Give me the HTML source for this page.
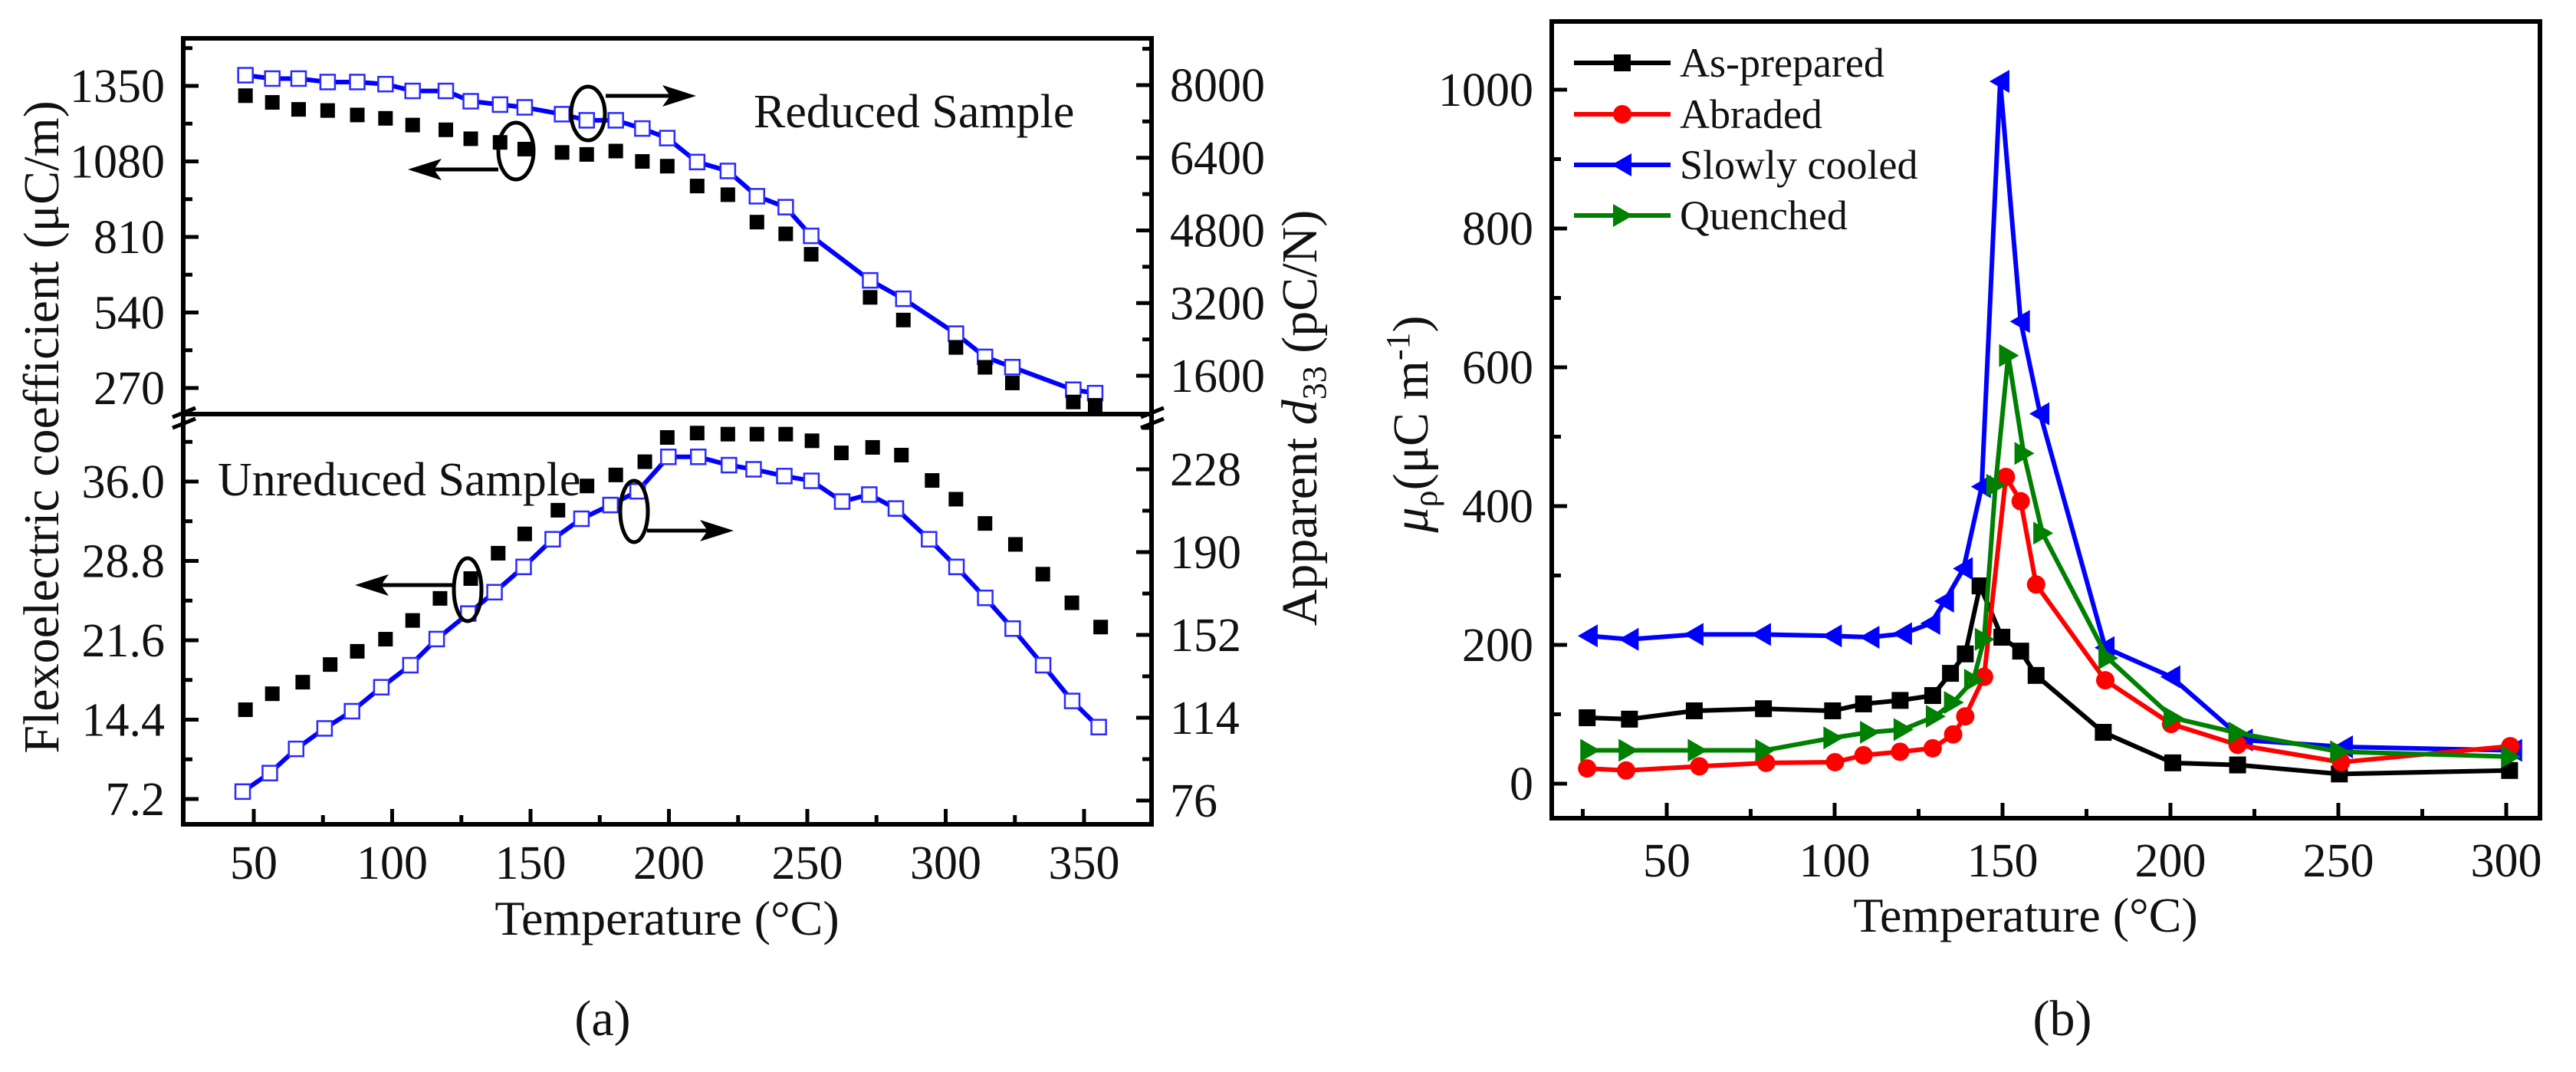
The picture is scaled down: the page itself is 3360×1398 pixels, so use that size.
<!DOCTYPE html>
<html><head><meta charset="utf-8"><style>
html,body{margin:0;padding:0;background:#fff}
svg{display:block}
text{font-family:"Liberation Serif","DejaVu Serif",serif;fill:#111}
</style></head><body>
<svg id="fig" width="3360" height="1398" viewBox="0 0 3360 1398" xmlns="http://www.w3.org/2000/svg">
<g id="pa"></g>
<g id="pb"></g>
</svg>
<script>
// ---------- Panel (a) data ----------
const aTopTemps = [47.0,56.7,66.2,76.7,87.4,97.6,107.4,119.4,128.4,139.0,147.9,161.4,170.3,180.8,190.4,199.4,210.2,221.3,231.8,242.2,251.4,272.7,284.7,303.7,314.2,324.1,346.1,354.0];
const aTopFlexo = [1315,1291,1266,1262,1246,1234,1210,1193,1161,1148,1124,1112,1105,1117,1080,1063,992,961,863,821,748,594,513,415,344,288,220,208];
const aTopD33 = [8218,8144,8144,8068,8068,8022,7872,7872,7645,7571,7510,7360,7225,7225,7044,6833,6306,6110,5553,5312,4680,3700,3295,2527,2015,1789,1292,1217];
const aBotFlexoTemps = [47.0,56.7,67.7,77.6,87.4,97.6,107.4,117.3,128.4,138.3,147.9,159.9,170.4,180.8,191.3,199.4,210.2,221.3,231.8,242.2,251.7,262.3,273.6,284.0,295.1,303.7,314.2,325.2,335.1,345.6,356.0];
const aBotFlexo = [15.3,16.75,17.8,19.4,20.6,21.7,23.4,25.4,27.2,29.5,31.25,33.4,35.6,36.6,37.8,40.0,40.4,40.3,40.3,40.3,39.7,38.6,39.1,38.4,36.1,34.4,32.2,30.3,27.6,25.0,22.8];
const aBotD33Temps = [46.0,55.8,65.3,75.6,85.5,96.1,106.6,116.1,127.5,137.0,147.5,158.0,168.4,178.9,188.7,199.8,210.6,221.7,230.6,241.7,251.5,262.6,272.4,282.0,294.0,303.9,314.3,324.2,335.2,345.7,355.3];
const aBotD33 = [80.1,88.6,99.7,109.1,117,128,138.1,150.1,161.8,171.6,183.2,195.9,205.3,211.6,217.9,233.7,233.7,229.9,228,224.9,222.7,213.2,216.4,210,195.9,183.2,169,154.9,138.1,121.7,109.7];
const aXTicks = [50,100,150,200,250,300,350];
const aTopLeftTicks = ["270","540","810","1080","1350"];
const aTopRightTicks = ["1600","3200","4800","6400","8000"];
const aBotLeftTicks = ["7.2","14.4","21.6","28.8","36.0"];
const aBotRightTicks = ["76","114","152","190","228"];
// ---------- Panel (b) data ----------
const bTempsAs = [26.3,38.9,58.2,78.8,99.4,108.6,119.5,129.2,134.5,138.9,143.3,149.8,155.4,160,180,200.7,220,250.3,301];
const bAs = [95,93,105,108,105,115,120,127,159,187,285,211,191,156,74,30,27,14,19];
const bTempsAb = [26.3,37.9,59.7,79.6,100.1,108.6,119.5,129.2,135.3,138.9,144.5,151.0,155.4,160.0,180.6,200.2,220.0,250.8,301.2];
const bAb = [22,19,25,30,31,41,46,51,71,97,154,442,407,287,149,86,56,31,54];
const bTempsSc = [26.7,38.9,58.2,78.3,99.4,110.6,120.3,128.7,132.8,138.4,143.8,149.3,155.4,161.2,180.6,200.2,221.8,251.6,302.0];
const bSc = [213,208,215,215,213,211,216,231,263,310,428,1012,666,533,196,154,63,53,48];
const bTempsQu = [27.0,38.4,59.0,79.1,99.4,110.3,120.3,129.9,135.3,141.3,144.5,147.9,151.7,156.3,161.9,181.3,200.7,220.0,250.3,301.2];
const bQu = [48,48,48,48,66,74,78,97,117,149,208,430,617,476,361,181,95,73,46,39];
const bXTicks = [50,100,150,200,250,300];
const bYTicks = [0,200,400,600,800,1000];
const bLegend = ["As-prepared","Abraded","Slowly cooled","Quenched"];

const NS = "http://www.w3.org/2000/svg";
function mk(parent, tag, attrs, txt){
  const e = document.createElementNS(NS, tag);
  for (const k in attrs) e.setAttribute(k, attrs[k]);
  if (txt !== undefined) e.textContent = txt;
  parent.appendChild(e);
  return e;
}
const pa = document.getElementById('pa');
const pb = document.getElementById('pb');

// ---- Panel a scales ----
const AL=239, AR=1502, AT=50, AB=1075, ABRK=540;
const ax = t => 331 + (t-50)*3.61;
const ayTL = v => 112 + (1350-v)/270*98.5;
const ayTR = v => 111 + (8000-v)/1600*94.75;
const ayBL = v => 1042 - (v-7.2)/7.2*103.5;
const ayBR = v => 1044 - (v-76)/38*108;

let fr = mk(pa,'path',{d:`M${AL},${AT}H${AR}V${AB}H${AL}Z M${AL},${ABRK}H${AR}`,fill:'none',stroke:'#000','stroke-width':6});


[AL,AR].forEach(x=>{
  const b = mk(pa,'path',{d:`M${x-14},${ABRK+4}L${x+16},${ABRK-8}M${x-14},${ABRK+18}L${x+16},${ABRK+6}`,stroke:'#000','stroke-width':5,fill:'none'});
  
  
});
for (let t=50;t<=375;t+=25){
  const x=ax(t); if (x>AR-4) break;
  const major = t%50===0;
  const tk = mk(pa,'line',{x1:x,x2:x,y1:AB,y2:AB-(major?20:12),stroke:'#000','stroke-width':5});
  
  
}
aXTicks.forEach(t=>{
  const l = mk(pa,'text',{x:ax(t),y:1146,'font-size':62,'text-anchor':'middle'},String(t));
  
  
});
function yTicks(g, labels, fy, minorStep, side, x, lo, hi){
  const vals = labels.map(Number);
  const step = vals[1]-vals[0];
  for (let v=vals[0]-step; v<=vals[vals.length-1]+step+1e-9; v+=minorStep){
    const y=fy(v); if (y<lo+4||y>hi-4) continue;
    const major = vals.some(m=>Math.abs(m-v)<1e-6);
    const dir = side==='left'?1:-1;
    const tk = mk(g,'line',{x1:x,x2:x+dir*(major?20:12),y1:y,y2:y,stroke:'#000','stroke-width':5});
    
    
  }
  labels.forEach(s=>{
    const y=fy(Number(s));
    const l = mk(g,'text',{x:side==='left'?x-24:x+24,y:y+21,'font-size':62,'text-anchor':side==='left'?'end':'start'},s);
    
    
  });
}
yTicks(pa,aTopLeftTicks,ayTL,135,'left',AL,AT,ABRK);
yTicks(pa,aTopRightTicks,ayTR,800,'right',AR,AT,ABRK);
yTicks(pa,aBotLeftTicks,ayBL,3.6,'left',AL,ABRK,AB);
yTicks(pa,aBotRightTicks,ayBR,19,'right',AR,ABRK,AB);

function polyline(g, xs, ys, fx, fy, color, w, name){
  const pts = xs.map((t,i)=>fx(t)+','+fy(ys[i])).join(' ');
  const p = mk(g,'polyline',{points:pts,fill:'none',stroke:color,'stroke-width':w,'stroke-linejoin':'round'});
  
  
}
function squares(g, xs, ys, fx, fy, fill, stroke, s, name){
  xs.forEach((t,i)=>{
    const r = mk(g,'rect',{x:fx(t)-s/2,y:fy(ys[i])-s/2,width:s,height:s,fill:fill,stroke:stroke,'stroke-width':stroke==='none'?0:2.5});
    
    
  });
}
polyline(pa,aTopTemps,aTopD33,ax,ayTR,'#0000ff',6,'reduced-d33-line');
squares(pa,aTopTemps,aTopD33,ax,ayTR,'#fff','#2a2aff',19,'reduced-d33-point');
squares(pa,aTopTemps,aTopFlexo,ax,ayTL,'#000','none',19,'reduced-flexo-point');
polyline(pa,aBotD33Temps,aBotD33,ax,ayBR,'#0000ff',6,'unreduced-d33-line');
squares(pa,aBotD33Temps,aBotD33,ax,ayBR,'#fff','#2a2aff',19,'unreduced-d33-point');
squares(pa,aBotFlexoTemps,aBotFlexo,ax,ayBL,'#000','none',19,'unreduced-flexo-point');

function arrow(g,x1,x2,y,name){
  const d = x2>x1?1:-1;
  const l = mk(g,'line',{x1:x1,x2:x2-d*30,y1:y,y2:y,stroke:'#000','stroke-width':5});
  
  
  const h = mk(g,'path',{d:`M${x2},${y}L${x2-d*44},${y-14}L${x2-d*34},${y}L${x2-d*44},${y+14}Z`,fill:'#000'});
  
  
}
function ell(g,cx,cy,rx,ry,name){
  const e = mk(g,'ellipse',{cx:cx,cy:cy,rx:rx,ry:ry,fill:'none',stroke:'#000','stroke-width':5});
  
  
}
ell(pa,767,148,22,35,'d33-axis-circle-top');
arrow(pa,790,908,125,'right-axis-arrow-top');
ell(pa,673,197,23,37,'flexo-axis-circle-top');
arrow(pa,650,532,221,'left-axis-arrow-top');
ell(pa,610,769,18,41,'flexo-axis-circle-bottom');
arrow(pa,591,463,763,'left-axis-arrow-bottom');
ell(pa,827,667,18,40,'d33-axis-circle-bottom');
arrow(pa,844,957,692,'right-axis-arrow-bottom');

let t;
t = mk(pa,'text',{x:983,y:166,'font-size':62},'Reduced Sample');


t = mk(pa,'text',{x:284,y:646,'font-size':62},'Unreduced Sample');


t = mk(pa,'text',{x:870,y:1219,'font-size':64,'text-anchor':'middle'},'Temperature (°C)');


t = mk(pa,'text',{x:0,y:0,'font-size':66,'text-anchor':'middle',transform:'translate(76,557) rotate(-90)'},'Flexoelectric coefficient (μC/m)');


t = mk(pa,'text',{x:0,y:0,'font-size':66,'text-anchor':'middle',transform:'translate(1717,545) rotate(-90)'});


mk(t,'tspan',{},'Apparent ');
mk(t,'tspan',{'font-style':'italic'},'d');
mk(t,'tspan',{'font-size':44,dy:12},'33');
mk(t,'tspan',{dy:-12},' (pC/N)');
t = mk(pa,'text',{x:786,y:1350,'font-size':66,'text-anchor':'middle'},'(a)');



// ---- Panel b ----
const bg = mk(pb,'rect',{x:1736,y:0,width:1624,height:1398,fill:'#fff'});


const BL=2024, BR=3313, BT=28, BB=1067;
const bx = t => 2174 + (t-50)*4.38;
const by = v => 1022 - v*0.905;
fr = mk(pb,'rect',{x:BL,y:BT,width:BR-BL,height:BB-BT,fill:'none',stroke:'#000','stroke-width':6});


for (let tt=25; tt<=325; tt+=25){
  const x=bx(tt); if (x<BL+4||x>BR-4) continue;
  const major=tt%50===0;
  const tk = mk(pb,'line',{x1:x,x2:x,y1:BB,y2:BB-(major?20:12),stroke:'#000','stroke-width':5});
  
  
}
bXTicks.forEach(v=>{
  const l = mk(pb,'text',{x:bx(v),y:1143,'font-size':62,'text-anchor':'middle'},String(v));
  
  
});
for (let v=-100; v<=1100; v+=100){
  const y=by(v); if (y<BT+4||y>BB-4) continue;
  const major=v%200===0;
  const tk = mk(pb,'line',{x1:BL,x2:BL+(major?20:12),y1:y,y2:y,stroke:'#000','stroke-width':5});
  
  
}
bYTicks.forEach(v=>{
  const l = mk(pb,'text',{x:BL-24,y:by(v)+21,'font-size':62,'text-anchor':'end'},String(v));
  
  
});
function marker(g,kind,x,y,color,name){
  let m;
  if (kind==='sq') m = mk(g,'rect',{x:x-11,y:y-11,width:22,height:22,fill:color});
  else if (kind==='ci') m = mk(g,'circle',{cx:x,cy:y,r:12,fill:color});
  else if (kind==='tl') m = mk(g,'path',{d:`M${x-14},${y}L${x+12},${y-15}L${x+12},${y+15}Z`,fill:color});
  else m = mk(g,'path',{d:`M${x+14},${y}L${x-12},${y-15}L${x-12},${y+15}Z`,fill:color});
  
  
}
const series = [
  {ts:bTempsAs, vs:bAs, c:'#000000', k:'sq', n:'as-prepared'},
  {ts:bTempsSc, vs:bSc, c:'#0000ff', k:'tl', n:'slowly-cooled'},
  {ts:bTempsAb, vs:bAb, c:'#ff0000', k:'ci', n:'abraded'},
  {ts:bTempsQu, vs:bQu, c:'#008000', k:'tr', n:'quenched'}
];
series.forEach(s=>{
  polyline(pb,s.ts,s.vs,bx,by,s.c,6,s.n+'-line');
  s.ts.forEach((tt,i)=>marker(pb,s.k,bx(tt),by(s.vs[i]),s.c,s.n+'-point'));
});
const legColors=['#000000','#ff0000','#0000ff','#008000'];
const legKinds=['sq','ci','tl','tr'];
const legY=[82,149,215,281];
bLegend.forEach((lab,i)=>{
  const g = mk(pb,'g',{});
  
  
  const l = mk(g,'line',{x1:2053,x2:2179,y1:legY[i],y2:legY[i],stroke:legColors[i],'stroke-width':6});
  
  
  marker(g,legKinds[i],2116,legY[i],legColors[i],'legend-marker');
  const tx = mk(g,'text',{x:2191,y:legY[i]+18,'font-size':54},lab);
  
  
});
t = mk(pb,'text',{x:2642,y:1215,'font-size':64,'text-anchor':'middle'},'Temperature (°C)');


t = mk(pb,'text',{x:0,y:0,'font-size':66,'text-anchor':'middle',transform:'translate(1862,553) rotate(-90)'});


mk(t,'tspan',{'font-style':'italic'},'μ');
mk(t,'tspan',{'font-size':44,dy:12},'ρ');
mk(t,'tspan',{dy:-12},'(μC m');
mk(t,'tspan',{'font-size':44,dy:-24},'-1');
mk(t,'tspan',{dy:24},')');
t = mk(pb,'text',{x:2690,y:1350,'font-size':66,'text-anchor':'middle'},'(b)');


</script>
</body></html>
